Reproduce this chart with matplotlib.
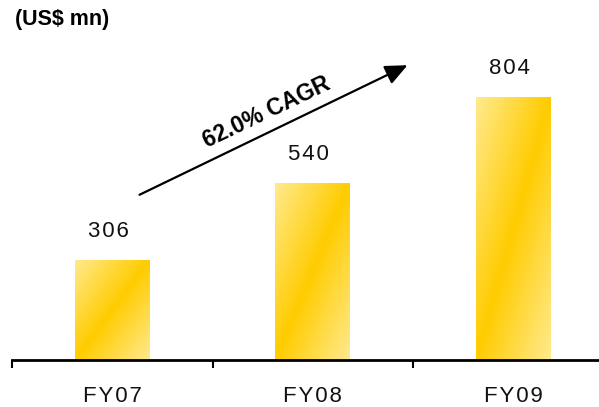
import numpy as np
import matplotlib
matplotlib.use("Agg")
import matplotlib.pyplot as plt
from matplotlib.colors import LinearSegmentedColormap
from matplotlib.patches import FancyArrowPatch

categories = ["FY07", "FY08", "FY09"]
revenue = [306, 540, 804]
unit_label = "(US$ mn)"
cagr_label = "62.0% CAGR"

FONT = ["Liberation Sans", "DejaVu Sans"]
HAIR = "\u200a"


def spaced(s):
    return HAIR.join(s)


W, H = 599, 407
fig = plt.figure(figsize=(W / 100, H / 100), dpi=100)
fig.patch.set_facecolor("white")

# axes box in pixels: left 12, baseline at y=360 (from top)
ax_left, ax_right = 12, 599
ax_bottom, ax_top = 360, 33
ax = fig.add_axes([ax_left / W, (H - ax_bottom) / H,
                   (ax_right - ax_left) / W, (ax_bottom - ax_top) / H])
xlim = (-0.5, -0.5 + (ax_right - ax_left) / 200.5)
ylim = (0, 1000)

x = np.arange(len(categories))
bar_w = 75 / 200.5
bars = ax.bar(x, revenue, width=bar_w, facecolor="none", edgecolor="none")

# diagonal gold gradient: light at the top-left and bottom-right corners
cmap = LinearSegmentedColormap.from_list(
    "gold", ["#FFEA8E", "#FFCC00", "#FFEA8E"])
n = 200
u = np.linspace(0, 1, n)
gu, gv = np.meshgrid(u, u)
grad = (gu + gv) / 2.0
for rect in bars.patches:
    x0, y0 = rect.get_x(), rect.get_y()
    x1, y1 = x0 + rect.get_width(), y0 + rect.get_height()
    im = ax.imshow(grad, cmap=cmap, vmin=0, vmax=1, aspect="auto",
                   extent=[x0, x1, y0, y1], origin="upper",
                   interpolation="bilinear", zorder=2)
    im.set_clip_path(rect)

for xi, v in zip(x, revenue):
    ax.annotate(spaced(str(v)), (xi, v), xytext=(-3, 13),
                textcoords="offset points", ha="center", va="bottom",
                fontsize=16, family=FONT, color="#111111")

ax.set_xlim(*xlim)
ax.set_ylim(*ylim)

for s in ["top", "right", "left"]:
    ax.spines[s].set_visible(False)
ax.spines["bottom"].set_linewidth(2.0)
ax.spines["bottom"].set_color("black")
ax.set_yticks([])
ax.set_xticks(x)
ax.set_xticklabels([spaced(c) for c in categories], fontsize=16,
                   family=FONT, color="#111111")
ax.tick_params(axis="x", which="major", length=0, pad=19)
ax.set_xticks([-0.5, 0.5, 1.5], minor=True)
ax.tick_params(axis="x", which="minor", length=6, width=1.5,
               direction="out", color="black")

# title
fig.text(15 / W, 1 - 20 / H, unit_label, fontsize=15.5, fontweight="bold",
         family=FONT, ha="left", va="center")

# CAGR arrow
def fpx(px, py):
    return (px / W, 1 - py / H)

arrow = FancyArrowPatch(fpx(137, 196), fpx(410, 64),
                        transform=fig.transFigure,
                        arrowstyle="-|>,head_length=9,head_width=4",
                        mutation_scale=1.5, linewidth=1.6, color="black")
fig.add_artist(arrow)
fig.text(*fpx(267, 112), cagr_label, fontsize=16.5, fontweight="bold",
         family=FONT, ha="center", va="center", rotation=25.5,
         rotation_mode="anchor")

fig.savefig("out.png", dpi=100, facecolor="white")
